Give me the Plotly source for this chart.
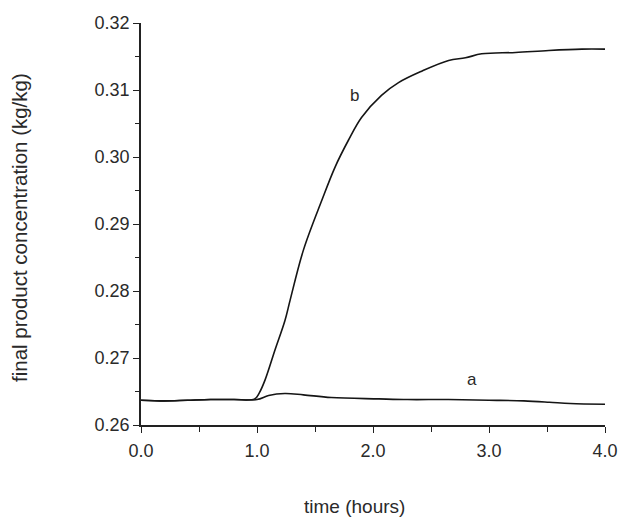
import plotly.graph_objects as go

# Curve a: uncontrolled case, stays near its initial level
time_a = [0.0, 0.2, 0.4, 0.6, 0.8, 1.0, 1.1, 1.24, 1.4, 1.64, 2.05, 2.3, 2.65, 3.0, 3.3, 3.52, 3.7, 4.0]
conc_a = [0.2637, 0.2636, 0.2637, 0.2638, 0.2638, 0.2638, 0.2644, 0.2647, 0.2645, 0.2641, 0.2639, 0.2638,
          0.2638, 0.2637, 0.2636, 0.2634, 0.2632, 0.2631]

# Curve b: concentration rises after the change at t = 1 h
time_b = [0.0, 0.2, 0.4, 0.6, 0.8, 0.98, 1.02, 1.069, 1.155, 1.241, 1.285, 1.40, 1.558, 1.673, 1.788,
          1.901, 2.073, 2.22, 2.419, 2.652, 2.797, 2.937, 3.229, 3.516, 3.801, 4.0]
conc_b = [0.2637, 0.2636, 0.2637, 0.2638, 0.2638, 0.2639, 0.2648, 0.2667, 0.2712, 0.2756, 0.2786, 0.2861,
          0.2935, 0.2985, 0.3025, 0.3059, 0.3092, 0.3111, 0.3128, 0.3144, 0.3148, 0.3154, 0.3156, 0.3159,
          0.3161, 0.3161]

x_ticks = [0, 1, 2, 3, 4]
x_tick_labels = ["0.0", "1.0", "2.0", "3.0", "4.0"]
y_ticks = [0.26, 0.27, 0.28, 0.29, 0.30, 0.31, 0.32]
y_tick_labels = ["0.26", "0.27", "0.28", "0.29", "0.30", "0.31", "0.32"]

line_style = dict(color="#151515", width=1.6)
font_family = "Liberation Sans, Arial, sans-serif"
ink = "#2a2a2a"

fig = go.Figure()
fig.add_trace(go.Scatter(x=time_a, y=conc_a, mode="lines", line=line_style, line_shape="spline",
                         showlegend=False, hoverinfo="skip"))
fig.add_trace(go.Scatter(x=time_b, y=conc_b, mode="lines", line=line_style, line_shape="spline",
                         showlegend=False, hoverinfo="skip"))

# curve labels
fig.add_annotation(x=2.85, y=0.2668, text="a", showarrow=False,
                   font=dict(size=17, color=ink, family=font_family))
fig.add_annotation(x=1.84, y=0.3092, text="b", showarrow=False,
                   font=dict(size=17, color=ink, family=font_family))

# axis titles
fig.add_annotation(xref="paper", yref="paper", x=0.46, y=0, yshift=-81, text="time (hours)",
                   showarrow=False, xanchor="center", yanchor="middle",
                   font=dict(size=19, color=ink, family=font_family))
fig.add_annotation(xref="paper", yref="paper", x=0, xshift=-122, y=0.49,
                   text="final product concentration (kg/kg)", textangle=-90,
                   showarrow=False, xanchor="center", yanchor="middle",
                   font=dict(size=20.5, color=ink, family=font_family))

fig.update_layout(
    width=621, height=518,
    margin=dict(l=141, r=16, t=23, b=93),
    paper_bgcolor="white", plot_bgcolor="white",
    font=dict(family=font_family, size=18, color=ink),
    xaxis=dict(
        range=[0, 4], tickvals=x_ticks, ticktext=x_tick_labels, automargin=False,
        showgrid=False, zeroline=False, showline=True, linecolor="#222", linewidth=1.5,
        ticks="outside", ticklen=6, tickwidth=1.3, tickcolor="#222", ticklabelstandoff=3,
        minor=dict(dtick=0.5, ticks="outside", ticklen=5, tickwidth=1.2, tickcolor="#222", showgrid=False),
        tickfont=dict(size=18),
    ),
    yaxis=dict(
        range=[0.26, 0.32], tickvals=y_ticks, ticktext=y_tick_labels, automargin=False,
        showgrid=False, zeroline=False, showline=True, linecolor="#222", linewidth=1.5,
        ticks="outside", ticklen=6, tickwidth=1.3, tickcolor="#222",
        minor=dict(dtick=0.005, ticks="outside", ticklen=4, tickwidth=1.1, tickcolor="#222", showgrid=False),
        tickfont=dict(size=18),
    ),
)

fig.write_html("out.html")
